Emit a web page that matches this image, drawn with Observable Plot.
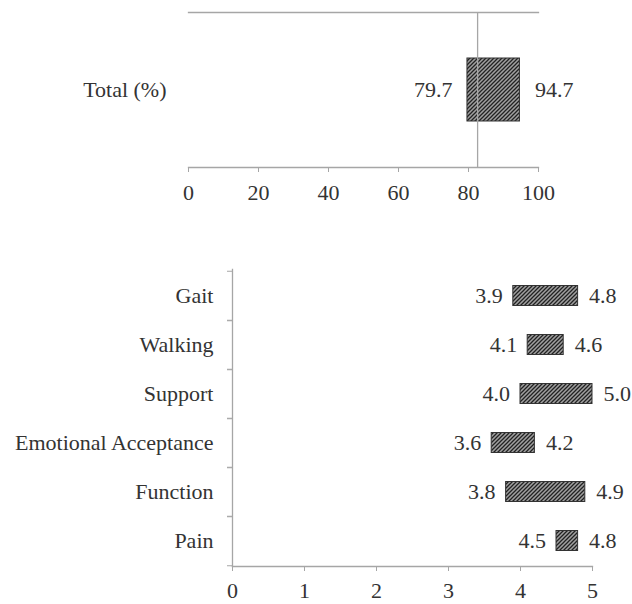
<!DOCTYPE html>
<html><head><meta charset="utf-8">
<script src="https://cdn.jsdelivr.net/npm/d3@7"></script>
<script src="https://cdn.jsdelivr.net/npm/@observablehq/plot@0.6"></script>
<style>
body{margin:0;background:#fff;}
#chart svg{display:block;}
#chart svg, #chart svg text{font-family:"Liberation Serif","Times New Roman",serif !important;font-size:22px !important;}
</style>
</head><body><div id="chart"></div>
<script>
// ---- data: top panel ----
const totalCategory = ["Total (%)"];
const totalLow = [79.7];
const totalHigh = [94.7];
const totalReference = [82.6];
const totalTicks = [0, 20, 40, 60, 80, 100];

// ---- data: bottom panel ----
const domains = ["Gait", "Walking", "Support", "Emotional Acceptance", "Function", "Pain"];
const domainLow = [3.9, 4.1, 4.0, 3.6, 3.8, 4.5];
const domainHigh = [4.8, 4.6, 5.0, 4.2, 4.9, 4.8];
const domainTicks = [0, 1, 2, 3, 4, 5];

const AXIS = "#a6a6a6";
const TEXT = "#333";
const fmt = d3.format(".1f");
const baseStyle = {fontFamily: "Liberation Serif, serif", fontSize: "22px", color: TEXT, background: "#fff", overflow: "visible"};

function addHatch(svg, id) {
  const p = d3.select(svg).insert("defs", ":first-child").append("pattern")
    .attr("id", id).attr("patternUnits", "userSpaceOnUse").attr("width", 4).attr("height", 4);
  p.append("rect").attr("width", 4).attr("height", 4).attr("fill", "#a0a0a0");
  p.append("path").attr("d", "M-1,1L1,-1M0,4L4,0M3,5L5,3").attr("stroke", "#222").attr("stroke-width", 1.3);
}

const topData = totalCategory.map((c, i) => ({cat: c, lo: totalLow[i], hi: totalHigh[i]}));
const botData = domains.map((c, i) => ({cat: c, lo: domainLow[i], hi: domainHigh[i]}));

const topPlot = Plot.plot({
  width: 632, height: 230,
  marginTop: 12, marginBottom: 63, marginLeft: 188, marginRight: 94,
  style: baseStyle,
  x: {domain: [0, 100], label: null},
  y: {domain: totalCategory, padding: 0.42, label: null},
  marks: [
    Plot.frame({anchor: "top", stroke: AXIS, strokeWidth: 1.3}),
    Plot.barX(topData, {x1: "lo", x2: "hi", y: "cat", fill: "url(#hatchTop)", stroke: "#333", strokeWidth: 1}),
    Plot.ruleX(totalReference, {stroke: AXIS, strokeWidth: 1.3}),
    Plot.text(topData, {x: "lo", y: "cat", text: d => fmt(d.lo), textAnchor: "end", dx: -15, fill: TEXT}),
    Plot.text(topData, {x: "hi", y: "cat", text: d => fmt(d.hi), textAnchor: "start", dx: 15, fill: TEXT}),
    Plot.axisY({tickSize: 0, tickPadding: 22, label: null, fill: TEXT}),
    Plot.axisX({ticks: totalTicks, tickFormat: "d", tickSize: 5, tickPadding: 12, stroke: AXIS, fill: TEXT, label: null}),
    Plot.frame({anchor: "bottom", stroke: AXIS, strokeWidth: 1.3})
  ]
});
addHatch(topPlot, "hatchTop");

const botHeight = 374, botTop = 39, botBottom = 38;
const halfStep = (botHeight - botTop - botBottom) / domains.length / 2;

const botPlot = Plot.plot({
  width: 632, height: botHeight,
  marginTop: botTop, marginBottom: botBottom, marginLeft: 232, marginRight: 40,
  style: baseStyle,
  x: {domain: [0, 5], label: null},
  y: {domain: domains, padding: 0, label: null},
  marks: [
    Plot.barX(botData, {x1: "lo", x2: "hi", y: "cat", insetTop: 14.5, insetBottom: 14.5, fill: "url(#hatchBot)", stroke: "#333", strokeWidth: 1}),
    Plot.text(botData, {x: "lo", y: "cat", text: d => fmt(d.lo), textAnchor: "end", dx: -10.5, fill: TEXT}),
    Plot.text(botData, {x: "hi", y: "cat", text: d => fmt(d.hi), textAnchor: "start", dx: 11, fill: TEXT}),
    Plot.axisY({tickSize: 0, tickPadding: 19, label: null, fill: TEXT}),
    Plot.axisY({tickSize: 5, tickFormat: () => "", dy: -halfStep, stroke: AXIS, label: null}),
    Plot.axisY({tickSize: 5, tickFormat: () => "", dy: halfStep, stroke: AXIS, label: null}),
    Plot.axisX({ticks: domainTicks, tickFormat: "d", tickSize: 5, tickPadding: 11, stroke: AXIS, fill: TEXT, label: null}),
    Plot.frame({anchor: "left", stroke: AXIS, strokeWidth: 1.3}),
    Plot.frame({anchor: "bottom", stroke: AXIS, strokeWidth: 1.3})
  ]
});
addHatch(botPlot, "hatchBot");

const chart = document.getElementById("chart");
chart.appendChild(topPlot);
chart.appendChild(botPlot);
</script>
</body></html>
